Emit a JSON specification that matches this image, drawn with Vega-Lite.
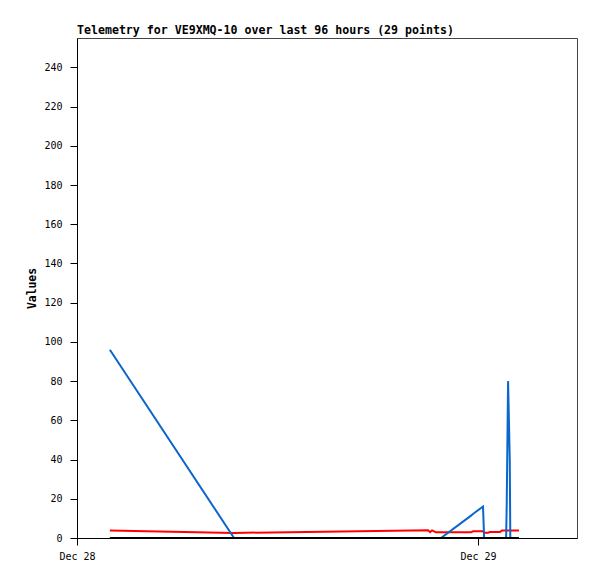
{
  "$schema": "https://vega.github.io/schema/vega-lite/v6.json",
  "autosize": {"type": "none"},
  "padding": {"left": 77, "top": 38, "right": 20, "bottom": 41},
  "width": 500,
  "height": 500,
  "background": "white",
  "title": {
    "text": "Telemetry for VE9XMQ-10 over last 96 hours (29 points)",
    "anchor": "start",
    "frame": "group",
    "font": "DejaVu Sans Mono",
    "fontSize": 11.6,
    "fontWeight": "bold",
    "color": "black",
    "offset": 1
  },
  "config": {
    "view": {"stroke": "#444", "strokeWidth": 1},
    "axis": {
      "labelFont": "DejaVu Sans Mono",
      "labelFontSize": 10,
      "labelColor": "black",
      "domainColor": "black",
      "tickColor": "black",
      "titleFont": "DejaVu Sans Mono",
      "titleFontSize": 11.4,
      "titleFontWeight": "bold",
      "titleColor": "black",
      "grid": false,
      "tickSize": 7
    }
  },
  "data": {
    "values": [
      {"t": "2024-12-28T01:58:00Z", "red": 3.8, "blue": 96, "black": 0},
      {"t": "2024-12-28T09:24:00Z", "red": 2.6, "blue": 0, "black": 0},
      {"t": "2024-12-28T21:01:00Z", "red": 3.9, "blue": 0, "black": 0},
      {"t": "2024-12-28T21:08:00Z", "red": 3.0, "blue": 0, "black": 0},
      {"t": "2024-12-28T21:15:00Z", "red": 3.9, "blue": 0, "black": 0},
      {"t": "2024-12-28T21:29:00Z", "red": 2.9, "blue": 0, "black": 0},
      {"t": "2024-12-28T21:47:00Z", "red": 2.9, "blue": 0, "black": 0},
      {"t": "2024-12-28T23:35:00Z", "red": 2.9, "blue": 11.4, "black": 0},
      {"t": "2024-12-28T23:42:00Z", "red": 3.4, "blue": 12.2, "black": 0},
      {"t": "2024-12-29T00:07:00Z", "red": 3.4, "blue": 14.9, "black": 0},
      {"t": "2024-12-29T00:18:00Z", "red": 3.4, "blue": 16, "black": 0},
      {"t": "2024-12-29T00:22:00Z", "red": 2.7, "blue": 0, "black": 0},
      {"t": "2024-12-29T00:36:00Z", "red": 2.7, "blue": 0, "black": 0},
      {"t": "2024-12-29T00:43:00Z", "red": 3.0, "blue": 0, "black": 0},
      {"t": "2024-12-29T01:19:00Z", "red": 3.0, "blue": 0, "black": 0},
      {"t": "2024-12-29T01:26:00Z", "red": 3.8, "blue": 0, "black": 0},
      {"t": "2024-12-29T01:41:00Z", "red": 3.8, "blue": 0, "black": 0},
      {"t": "2024-12-29T01:43:00Z", "red": 3.8, "blue": 16, "black": 0},
      {"t": "2024-12-29T01:48:00Z", "red": 3.8, "blue": 80, "black": 0},
      {"t": "2024-12-29T01:54:00Z", "red": 3.8, "blue": 40, "black": 0},
      {"t": "2024-12-29T01:56:00Z", "red": 3.8, "blue": 0, "black": 0},
      {"t": "2024-12-29T02:27:00Z", "red": 3.8, "blue": 0, "black": 0}
    ]
  },
  "encoding": {
    "x": {
      "field": "t",
      "type": "temporal",
      "scale": {"type": "utc", "domain": [1735344000000, 1735451730000]},
      "axis": {
        "title": null,
        "values": [1735344000000, 1735430400000],
        "format": "%b %d",
        "labelFlush": false,
        "labelPadding": 6
      }
    }
  },
  "layer": [
    {
      "mark": {"type": "line", "color": "#ff0000", "strokeWidth": 2, "clip": true},
      "encoding": {
        "y": {
          "field": "red",
          "type": "quantitative",
          "scale": {"domain": [0, 255], "nice": false},
          "axis": {
            "title": "Values",
            "values": [0, 20, 40, 60, 80, 100, 120, 140, 160, 180, 200, 220, 240],
            "labelPadding": 8,
            "titlePadding": 6
          }
        }
      }
    },
    {
      "mark": {"type": "line", "color": "#0a66cc", "strokeWidth": 2, "clip": true},
      "encoding": {"y": {"field": "blue", "type": "quantitative"}}
    },
    {
      "mark": {"type": "line", "color": "#000000", "strokeWidth": 2, "clip": true},
      "encoding": {"y": {"field": "black", "type": "quantitative"}}
    }
  ]
}
